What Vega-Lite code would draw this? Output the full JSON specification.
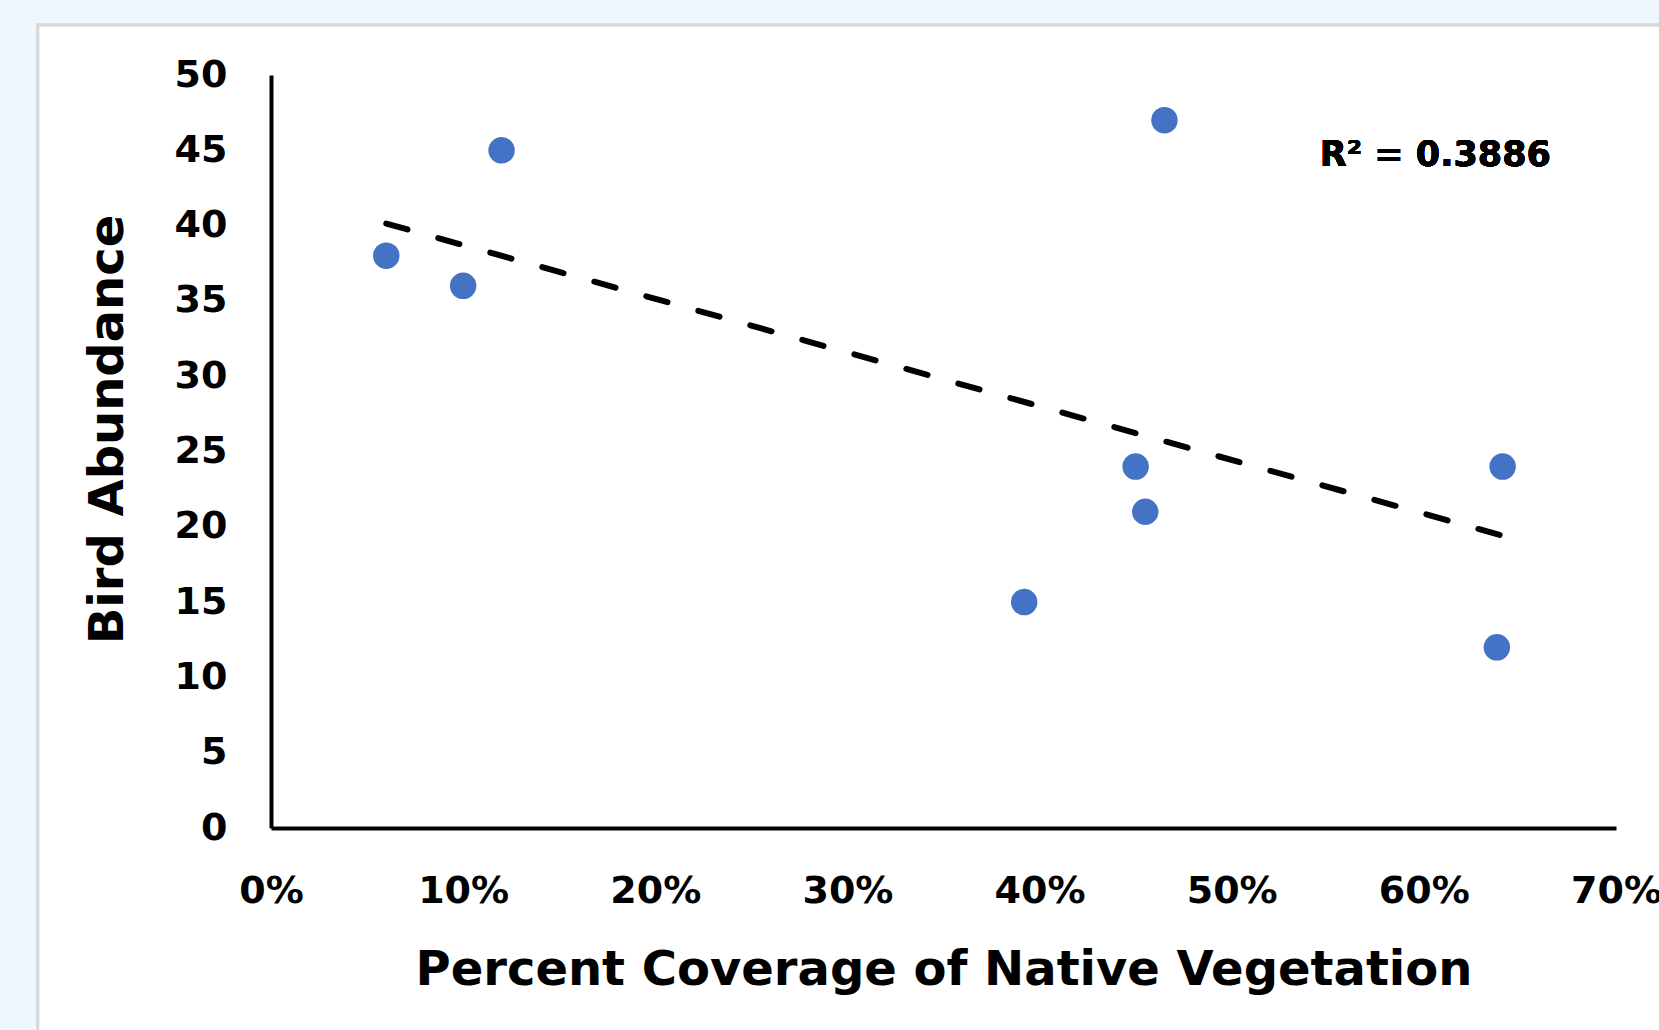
{
  "$schema": "https://vega.github.io/schema/vega-lite/v6.json",
  "width": 1345,
  "height": 753,
  "autosize": {"type": "none"},
  "padding": {"left": 271, "top": 75, "right": 43, "bottom": 202},
  "background": "#EEF7FE",
  "config": {
    "view": {"stroke": null},
    "font": "DejaVu Sans",
    "axis": {
      "domainColor": "black",
      "domainWidth": 4,
      "ticks": false,
      "tickSize": 0,
      "grid": false,
      "labelFont": "DejaVu Sans",
      "labelFontWeight": "bold",
      "labelFontSize": 38,
      "labelColor": "black",
      "labelOverlap": false,
      "titleFont": "DejaVu Sans",
      "titleFontWeight": "bold",
      "titleColor": "black"
    },
    "axisX": {"labelPadding": 44, "titleFontSize": 48, "titlePadding": 36, "labelFlush": false},
    "axisY": {"labelPadding": 44, "titleFontSize": 48, "titlePadding": 42, "titleY": 354}
  },
  "datasets": {
    "birds": [
      {"coverage": 0.06, "abundance": 38},
      {"coverage": 0.10, "abundance": 36},
      {"coverage": 0.12, "abundance": 45},
      {"coverage": 0.392, "abundance": 15},
      {"coverage": 0.45, "abundance": 24},
      {"coverage": 0.455, "abundance": 21},
      {"coverage": 0.465, "abundance": 47},
      {"coverage": 0.641, "abundance": 24},
      {"coverage": 0.638, "abundance": 12}
    ]
  },
  "data": {"name": "birds"},
  "layer": [
    {
      "mark": {"type": "rect", "fill": "white", "stroke": "#D9D9D9", "strokeWidth": 3},
      "encoding": {
        "x": {"datum": -0.1213, "type": "quantitative", "title": "Percent Coverage of Native Vegetation", "scale": {"domain": [0, 0.7], "nice": false}, "axis": {"format": "%", "values": [0, 0.1, 0.2, 0.3, 0.4, 0.5, 0.6, 0.7], "zindex": 2}},
        "x2": {"datum": 0.8},
        "y": {"datum": 53.3, "type": "quantitative", "title": "Bird Abundance", "scale": {"domain": [0, 50], "nice": false}, "axis": {"values": [0, 5, 10, 15, 20, 25, 30, 35, 40, 45, 50], "zindex": 2}},
        "y2": {"datum": -20}
      }
    },
    {
      "transform": [{"regression": "abundance", "on": "coverage"}],
      "mark": {"type": "line", "color": "black", "strokeWidth": 6, "strokeDash": [22, 32], "strokeCap": "round"},
      "encoding": {
        "x": {"field": "coverage", "type": "quantitative", "title": "Percent Coverage of Native Vegetation", "scale": {"domain": [0, 0.7], "nice": false}, "axis": {"format": "%", "values": [0, 0.1, 0.2, 0.3, 0.4, 0.5, 0.6, 0.7], "zindex": 2}},
        "y": {"field": "abundance", "type": "quantitative", "title": "Bird Abundance", "scale": {"domain": [0, 50], "nice": false}, "axis": {"values": [0, 5, 10, 15, 20, 25, 30, 35, 40, 45, 50], "zindex": 2}}
      }
    },
    {
      "mark": {"type": "circle", "size": 700, "color": "#4472C4", "opacity": 1},
      "encoding": {
        "x": {"field": "coverage", "type": "quantitative", "title": "Percent Coverage of Native Vegetation", "scale": {"domain": [0, 0.7], "nice": false}, "axis": {"format": "%", "values": [0, 0.1, 0.2, 0.3, 0.4, 0.5, 0.6, 0.7], "zindex": 2}},
        "y": {"field": "abundance", "type": "quantitative", "title": "Bird Abundance", "scale": {"domain": [0, 50], "nice": false}, "axis": {"values": [0, 5, 10, 15, 20, 25, 30, 35, 40, 45, 50], "zindex": 2}}
      }
    },
    {
      "mark": {"type": "text", "font": "DejaVu Sans", "fontWeight": "bold", "fontSize": 35, "color": "black", "align": "center", "baseline": "middle"},
      "encoding": {
        "x": {"datum": 0.606, "type": "quantitative", "title": "Percent Coverage of Native Vegetation", "scale": {"domain": [0, 0.7], "nice": false}, "axis": {"format": "%", "values": [0, 0.1, 0.2, 0.3, 0.4, 0.5, 0.6, 0.7], "zindex": 2}},
        "y": {"datum": 44.7, "type": "quantitative", "title": "Bird Abundance", "scale": {"domain": [0, 50], "nice": false}, "axis": {"values": [0, 5, 10, 15, 20, 25, 30, 35, 40, 45, 50], "zindex": 2}},
        "text": {"value": "R² = 0.3886"}
      }
    }
  ]
}
